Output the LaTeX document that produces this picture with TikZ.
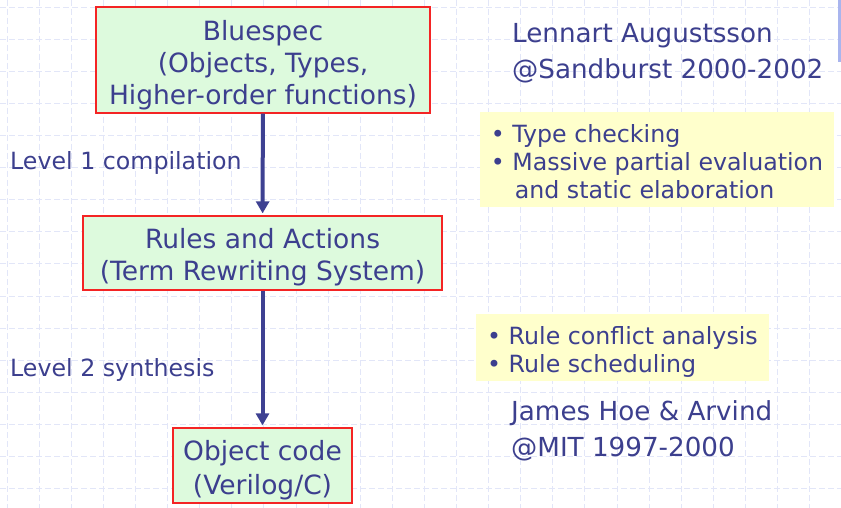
\documentclass[tikz,border=0pt]{standalone}
\usepackage{fontspec}
\setmainfont{DejaVu Sans}
\usepackage{xcolor}
\usetikzlibrary{arrows.meta, positioning}

\definecolor{inkblue}{HTML}{3C3F8E}
\definecolor{arrowblue}{HTML}{3E4192}
\definecolor{boxred}{HTML}{F42424}
\definecolor{boxgreen}{HTML}{DDFADD}
\definecolor{noteyellow}{HTML}{FFFFCC}
\definecolor{gridblue}{HTML}{E2E6F8}
\definecolor{barblue}{HTML}{A9B5EE}

\begin{document}
\begin{tikzpicture}[
    x=1pt, y=-1pt,
    every node/.style={text=inkblue},
    bigfont/.style={font=\fontsize{26.5}{32}\selectfont},
    smallfont/.style={font=\fontsize{23.7}{28}\selectfont},
    stage/.style={rectangle, draw=boxred, line width=1.3pt, fill=boxgreen, bigfont, align=center, inner sep=0pt},
    note/.style={rectangle, fill=noteyellow, smallfont, align=left, inner sep=0pt},
    gridline/.style={gridblue, line width=0.8pt, dash pattern=on 6pt off 3pt},
    arrow/.style={arrowblue, line width=4pt, -{Triangle[length=12pt,width=13pt]}, shorten >=2pt}
]
\useasboundingbox (0,0) rectangle (841,508);
\fill[white] (0,0) rectangle (841,508);

% background grid
\foreach \k in {0,...,25} {
  \draw[gridline] (7+32.1*\k,0) -- (7+32.1*\k,508);
}
\foreach \k in {0,...,15} {
  \draw[gridline] (0,7+32.1*\k) -- (841,7+32.1*\k);
}
\fill[barblue] (838,0) rectangle (841,62);

% stages
\node (bsv) [stage, minimum width=334pt, minimum height=106pt] at (263,60) {\rule{0pt}{30pt}Bluespec\\(Objects, Types,\\Higher-order functions)};
\node (trs) [stage, minimum width=359pt, minimum height=74pt] at (262.5,253) {\rule{0pt}{28pt}Rules and Actions\\(Term Rewriting System)};
\node (obj) [stage, minimum width=179pt, minimum height=75pt] at (262.5,465.5) {\rule{0pt}{30pt}Object code\\[2pt](Verilog/C)};

% step labels
\node (lvl1) [smallfont, anchor=west, inner sep=0pt] at (10,163) {Level 1 compilation};
\node (lvl2) [smallfont, anchor=west, inner sep=0pt] at (10,370) {Level 2 synthesis};

% notes
\node (note1) [note, minimum width=354pt, minimum height=95pt] at (657,159.5) {\rule{0pt}{22pt}\textbullet\ Type checking\\\textbullet\ Massive partial evaluation\\\hspace*{24pt}and static elaboration};
\node (note2) [note, minimum width=293pt, minimum height=67pt] at (622.5,347.5) {\rule{0pt}{26pt}\textbullet\ Rule conflict analysis\\\textbullet\ Rule scheduling};

% authors
\node (lennart) [font=\fontsize{26.2}{36}\selectfont, align=left, anchor=west, inner sep=0pt] at (512,53.5) {Lennart Augustsson\\@Sandburst 2000-2002};
\node (hoe) [font=\fontsize{26.2}{36}\selectfont, align=left, anchor=west, inner sep=0pt] at (511,431) {James Hoe \& Arvind\\@MIT 1997-2000};

\draw [arrow] (bsv) -- (trs);
\draw [arrow] (trs) -- (obj);
\end{tikzpicture}
\end{document}
